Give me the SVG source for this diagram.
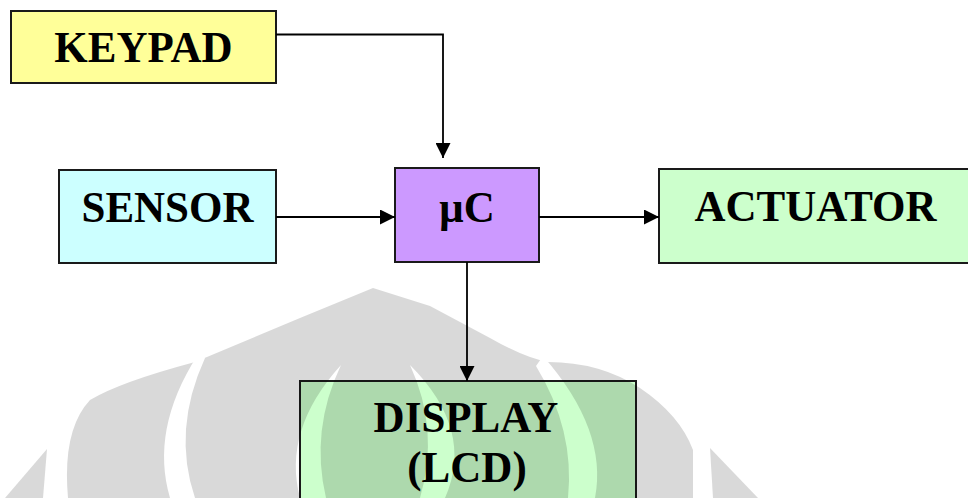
<svg xmlns="http://www.w3.org/2000/svg" width="968" height="498" viewBox="0 0 968 498">
<style>
.box{stroke:#1a1a1a;stroke-width:2}
.lbl{font-family:"Liberation Serif","Times New Roman",serif;font-weight:bold;font-size:43px;fill:#000;text-anchor:middle}
.wire{fill:none;stroke:#000;stroke-width:1.8}
</style>
<defs>
<marker id="ah" markerUnits="userSpaceOnUse" markerWidth="16" markerHeight="15" refX="15" refY="7.5" orient="auto">
<path d="M0,0 L15,7.5 L0,15 Z" fill="#000"/>
</marker>
<mask id="wm" maskUnits="userSpaceOnUse" x="0" y="0" width="968" height="498">
<path d="M5,498 L47,449 L43,498 Z" fill="#fff"/>
<path d="M68,498 Q62,430 90,400 Q120,382 195,362 L300,318 L373,288 L430,306 L490,338 Q525,358 548,362 Q600,362 640,388 Q680,415 693,450 L693,498 Z" fill="#fff"/>
<path d="M710,448 L758,498 L713,498 Z" fill="#fff"/>
<path d="M197,356 Q150,430 170,498 L195,498 Q172,430 205,358 Z" fill="#000"/>
<path d="M341,365 Q282,430 300,498 L326,498 Q310,430 341,365 Z" fill="#000"/>
<path d="M410,365 Q475,430 445,498 L420,498 Q440,430 410,365 Z" fill="#000"/>
<path d="M543,356 Q608,430 595,498 L568,498 Q575,430 536,366 Z" fill="#000"/>
</mask>
</defs>
<rect width="968" height="498" fill="#fff"/>
<g id="keypad">
<rect class="box" x="11" y="11" width="265" height="72" fill="#ffff99"/>
<text class="lbl" transform="translate(143.5,62) scale(1,1.05)">KEYPAD</text>
</g>
<g id="sensor">
<rect class="box" x="59" y="170" width="217" height="93" fill="#ccffff"/>
<text class="lbl" transform="translate(167.5,222) scale(1,1.05)">SENSOR</text>
</g>
<g id="uc">
<rect class="box" x="395" y="168" width="144" height="94" fill="#cc99ff"/>
<text class="lbl" transform="translate(467,222) scale(1,1.05)">µC</text>
</g>
<g id="actuator">
<rect class="box" x="659" y="169" width="313" height="94" fill="#ccffcc"/>
<text class="lbl" transform="translate(815.5,221) scale(1,1.05)">ACTUATOR</text>
</g>
<g id="display">
<rect class="box" x="300" y="381" width="336" height="130" fill="#ccffcc"/>
<text class="lbl" transform="translate(466,432) scale(1,1.05)">DISPLAY</text>
<text class="lbl" transform="translate(467,482) scale(1,1.05)">(LCD)</text>
</g>
<g id="connectors">
<polyline class="wire" points="276,34.5 443,34.5 443,158" marker-end="url(#ah)"/>
<line class="wire" x1="276" y1="217" x2="395" y2="217" marker-end="url(#ah)"/>
<line class="wire" x1="539" y1="217" x2="659" y2="217" marker-end="url(#ah)"/>
<line class="wire" x1="467" y1="262" x2="467" y2="381" marker-end="url(#ah)"/>
</g>
<g id="watermark">
<rect x="0" y="0" width="968" height="498" fill="#000" fill-opacity="0.15" mask="url(#wm)"/>
</g>
</svg>
